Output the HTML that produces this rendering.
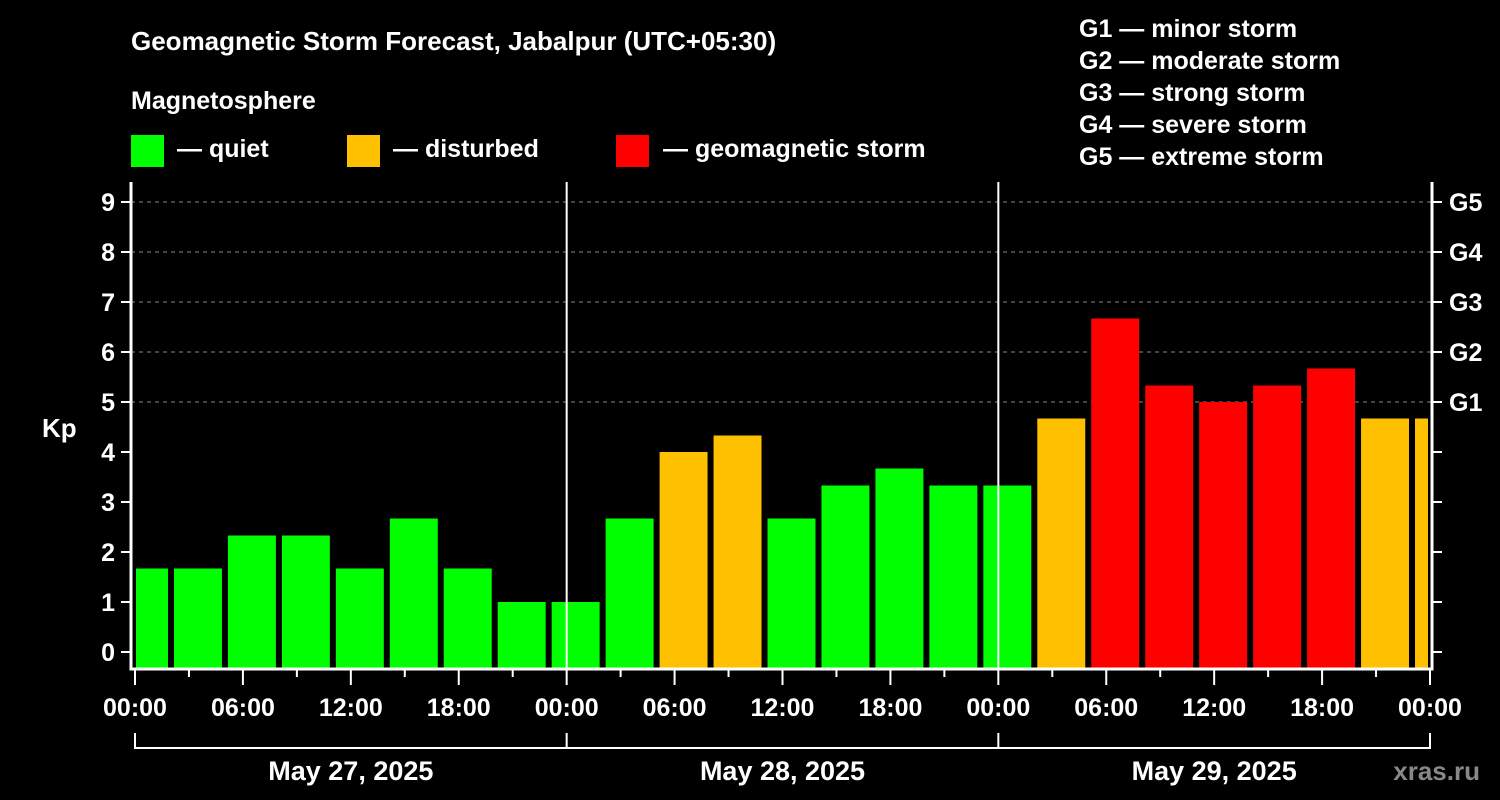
<!DOCTYPE html>
<html><head><meta charset="utf-8"><style>
html,body{margin:0;padding:0;background:#000;}
svg{display:block;font-family:"Liberation Sans",Arial,sans-serif;font-weight:bold;}
</style></head><body>
<svg id="chart" width="1500" height="800" viewBox="0 0 1500 800">
<rect width="1500" height="800" fill="#000"/>
<text x="131" y="50" fill="#fff" font-size="26">Geomagnetic Storm Forecast, Jabalpur (UTC+05:30)</text>
<text x="131" y="109" fill="#fff" font-size="25">Magnetosphere</text>
<g><rect x="131" y="135" width="33" height="32" fill="#00ff00"/><text x="177" y="157" fill="#fff" font-size="25">— quiet</text></g>
<g><rect x="347" y="135" width="33" height="32" fill="#ffc000"/><text x="393" y="157" fill="#fff" font-size="25">— disturbed</text></g>
<g><rect x="616" y="135" width="33" height="32" fill="#ff0000"/><text x="663" y="157" fill="#fff" font-size="25">— geomagnetic storm</text></g>
<g fill="#fff" font-size="25">
<text x="1079" y="37">G1 — minor storm</text>
<text x="1079" y="69">G2 — moderate storm</text>
<text x="1079" y="101">G3 — strong storm</text>
<text x="1079" y="133">G4 — severe storm</text>
<text x="1079" y="165">G5 — extreme storm</text>
</g>
<text x="42" y="437" fill="#fff" font-size="26">Kp</text>
<text x="1480" y="780" fill="#888" font-size="26" text-anchor="end">xras.ru</text>
<g id="grid"></g><g id="bars"></g><g id="axes"></g>
</svg>
<script>
const barStartHours=[-1,2,5,8,11,14,17,20,23,26,29,32,35,38,41,44,47,50,53,56,59,62,65,68,71];
const kpValues=[1.67,1.67,2.33,2.33,1.67,2.67,1.67,1.0,1.0,2.67,4.0,4.33,2.67,3.33,3.67,3.33,3.33,4.67,6.67,5.33,5.0,5.33,5.67,4.67,4.67];
const yTicks=[0,1,2,3,4,5,6,7,8,9];
const gLabels=["G1","G2","G3","G4","G5"];
const gLevels=[5,6,7,8,9];
const xTickLabels=["00:00","06:00","12:00","18:00","00:00","06:00","12:00","18:00","00:00","06:00","12:00","18:00","00:00"];
const dayLabels=["May 27, 2025","May 28, 2025","May 29, 2025"];
const NS="http://www.w3.org/2000/svg";
const x=h=>135+h*(1295/72);
const y=k=>652-k*50;
const TOP=182,BOT=669,LEFT=131,RIGHT=1432;
function mk(t,a,p){const e=document.createElementNS(NS,t);for(const k in a)e.setAttribute(k,a[k]);p.appendChild(e);return e;}
const grid=document.getElementById('grid'),bars=document.getElementById('bars'),axes=document.getElementById('axes');
gLevels.forEach((g,i)=>{
 const l=mk('line',{x1:LEFT,x2:RIGHT,y1:y(g),y2:y(g),stroke:'#888','stroke-width':1,'stroke-dasharray':'4,4'},grid);
 
 
});
kpValues.forEach((v,i)=>{
 const s=Math.max(0,barStartHours[i]),e=Math.min(72,barStartHours[i]+3);
 const x1=x(s)+(barStartHours[i]<0?1:3),x2=x(e)-(barStartHours[i]+3>72?2:3);
 const c=v>=5?'#ff0000':(v>=4?'#ffc000':'#00ff00');
 const r=mk('rect',{x:x1,y:y(v),width:x2-x1,height:668-y(v),fill:c},bars);
 
 
});
[24,48].forEach(h=>{const l=mk('line',{x1:x(h),x2:x(h),y1:TOP,y2:668,stroke:'#fff','stroke-width':2},axes);
 
 });
const ax=mk('path',{d:`M${LEFT},${TOP}V${BOT}H${RIGHT}V${TOP}`,stroke:'#fff','stroke-width':3,fill:'none'},axes);


yTicks.forEach(k=>{
 mk('line',{x1:LEFT-10,x2:LEFT,y1:y(k),y2:y(k),stroke:'#fff','stroke-width':2},axes);
 mk('line',{x1:RIGHT,x2:RIGHT+10,y1:y(k),y2:y(k),stroke:'#fff','stroke-width':2},axes);
 const t=mk('text',{x:LEFT-16,y:y(k)+9,fill:'#fff','font-size':25,'text-anchor':'end'},axes);t.textContent=k;
 
 
});
gLevels.forEach((g,i)=>{const t=mk('text',{x:1449,y:y(g)+9,fill:'#fff','font-size':25},axes);t.textContent=gLabels[i];
 
 });
for(let h=0;h<=72;h+=3){const major=h%6===0;
 mk('line',{x1:x(h),x2:x(h),y1:BOT,y2:major?685:677,stroke:'#fff','stroke-width':2},axes);}
xTickLabels.forEach((s,i)=>{const t=mk('text',{x:x(i*6),y:716,fill:'#fff','font-size':25,'text-anchor':'middle'},axes);t.textContent=s;
 
 });
mk('path',{d:`M${x(0)},733V748H${x(72)}V733M${x(24)},733V748M${x(48)},733V748`,stroke:'#fff','stroke-width':2,fill:'none'},axes);
dayLabels.forEach((s,i)=>{const t=mk('text',{x:x(i*24+12),y:780,fill:'#fff','font-size':27,'text-anchor':'middle'},axes);t.textContent=s;
 
 });
</script>
</body></html>
